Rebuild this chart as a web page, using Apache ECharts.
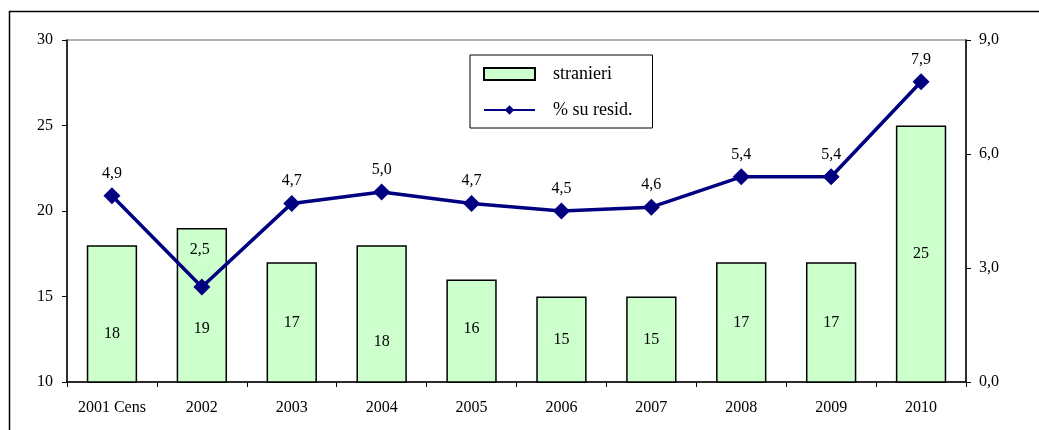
<!DOCTYPE html>
<html><head><meta charset="utf-8">
<script src="https://cdn.jsdelivr.net/npm/echarts@6/dist/echarts.min.js"></script>
<style>html,body{margin:0;padding:0;background:#fff}#c{width:1039px;height:430px}</style>
</head><body><div id="c"></div>
<script>
const categories = ['2001 Cens','2002','2003','2004','2005','2006','2007','2008','2009','2010'];
const stranieri = [18,19,17,18,16,15,15,17,17,25];
const percSuResid = [4.9,2.5,4.7,5.0,4.7,4.5,4.6,5.4,5.4,7.9];
const leftTicks = [10,15,20,25,30];
const rightTicks = [0,3,6,9];

const fmt = v => Number(v).toFixed(1).replace('.', ',');
const font = 'Liberation Serif, Times New Roman, serif';
// label offsets (styling) for bar value labels
const barLabelShift = [20,23,0,28,-2,0,0,0,0,0];

const chart = echarts.init(document.getElementById('c'));
chart.setOption({
  animation: false,
  textStyle: {fontFamily: font},
  graphic: [{type:'rect', shape:{x:9.5,y:11.5,width:1040,height:440}, style:{fill:'none', stroke:'#000', lineWidth:1.5}, z:-1}],
  grid: {left:67, right:73, top:40, bottom:48, show:true, borderColor:'#999', borderWidth:1.5},
  legend: {
    orient:'vertical', left:470, top:55, padding:[10,20,9,13],
    backgroundColor:'#fff', borderColor:'#000', borderWidth:1,
    itemWidth:51, itemHeight:12, itemGap:18,
    textStyle:{fontFamily:font, fontSize:18, color:'#000', padding:[0,0,0,13]},
    data:[{name:'stranieri', icon:'rect'}, {name:'% su resid.'}]
  },
  xAxis: {
    type:'category', data:categories,
    axisLine:{lineStyle:{color:'#000', width:1.5}},
    axisTick:{show:true, length:5, lineStyle:{color:'#000'}},
    axisLabel:{color:'#000', fontSize:16, fontFamily:font, margin:18}
  },
  yAxis: [{
    type:'value', min:10, max:30, interval:5,
    axisLine:{show:true, lineStyle:{color:'#000', width:1.5}},
    axisTick:{show:true, length:5, lineStyle:{color:'#000'}},
    splitLine:{show:false},
    axisLabel:{color:'#000', fontSize:16, fontFamily:font, margin:14}
  },{
    type:'value', min:0, max:9, interval:3, position:'right',
    axisLine:{show:true, lineStyle:{color:'#000', width:1.5}},
    axisTick:{show:true, length:5, lineStyle:{color:'#000'}},
    splitLine:{show:false},
    axisLabel:{color:'#000', fontSize:16, fontFamily:font, margin:13, formatter: fmt}
  }],
  series: [{
    name:'stranieri', type:'bar', yAxisIndex:0, barWidth:'56%',
    itemStyle:{color:'#CCFFCC', borderColor:'#000', borderWidth:1.5},
    data: stranieri.map((v,i)=>({value:v, label:{offset:[0, barLabelShift[i]]}})),
    label:{show:true, position:'inside', color:'#000', fontSize:16, fontFamily:font}
  },{
    name:'% su resid.', type:'line', yAxisIndex:1,
    symbol:'diamond', symbolSize:17,
    lineStyle:{color:'#000080', width:3.5},
    itemStyle:{color:'#000080'},
    data: percSuResid.map((v,i)=> i===1 ? {value:v, label:{position:'top', offset:[-2,-15]}} : v),
    label:{show:true, position:'top', distance:6, color:'#000', fontSize:16, fontFamily:font, formatter:p=>fmt(p.value)},
    z:5
  }]
});
</script></body></html>
